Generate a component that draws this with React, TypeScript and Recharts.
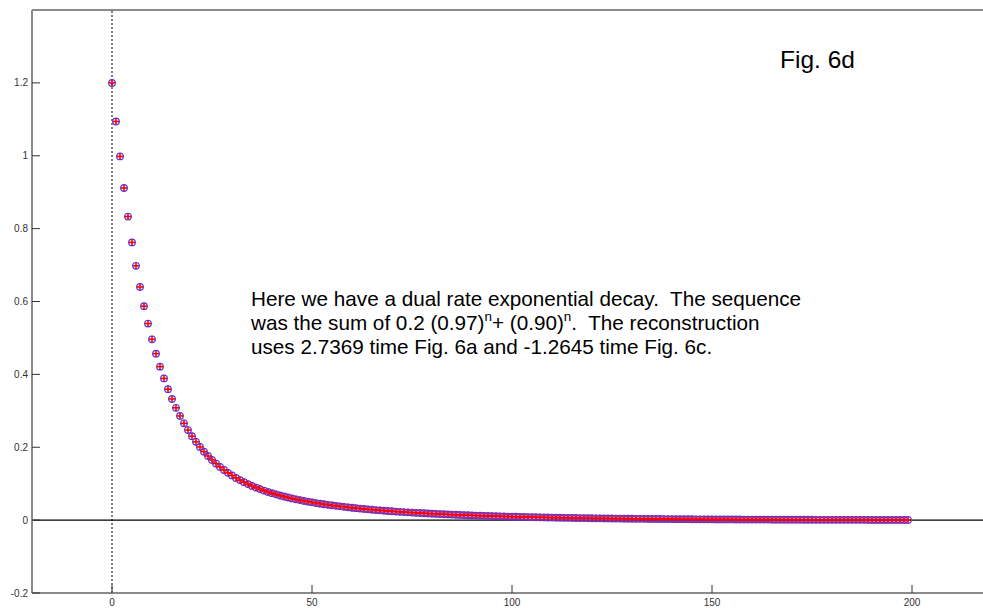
import React from 'react';
import { ScatterChart, Scatter, XAxis, YAxis, ReferenceLine } from 'recharts';

// samples n = 0..199 of the dual rate decay
const sequence = [
  1.2, 1.094, 0.9982, 0.9115, 0.8332, 0.7622, 0.698, 0.6399, 0.5872, 0.5395,
  0.4962, 0.4569, 0.4212, 0.3888, 0.3593, 0.3325, 0.3082, 0.2859, 0.2657, 0.2472,
  0.2303, 0.2149, 0.2008, 0.1879, 0.176, 0.1652, 0.1552, 0.146, 0.1376, 0.1298,
  0.1226, 0.1159, 0.1098, 0.1041, 0.0988, 0.0939, 0.0893, 0.0851, 0.0811, 0.0774,
  0.0739, 0.0707, 0.0676, 0.0648, 0.0621, 0.0595, 0.0571, 0.0549, 0.0527, 0.0507,
  0.0488, 0.0469, 0.0452, 0.0436, 0.042, 0.0405, 0.0391, 0.0377, 0.0364, 0.0352,
  0.034, 0.0328, 0.0317, 0.0307, 0.0297, 0.0287, 0.0277, 0.0268, 0.026, 0.0251,
  0.0243, 0.0236, 0.0228, 0.0221, 0.0214, 0.0207, 0.0201, 0.0195, 0.0189, 0.0183,
  0.0177, 0.0172, 0.0166, 0.0161, 0.0156, 0.0151, 0.0147, 0.0142, 0.0138, 0.0134,
  0.013, 0.0126, 0.0122, 0.0118, 0.0115, 0.0111, 0.0108, 0.0105, 0.0101, 0.0098,
  0.0095, 0.0092, 0.009, 0.0087, 0.0084, 0.0082, 0.0079, 0.0077, 0.0075, 0.0072,
  0.007, 0.0068, 0.0066, 0.0064, 0.0062, 0.006, 0.0058, 0.0057, 0.0055, 0.0053,
  0.0052, 0.005, 0.0049, 0.0047, 0.0046, 0.0044, 0.0043, 0.0042, 0.0041, 0.0039,
  0.0038, 0.0037, 0.0036, 0.0035, 0.0034, 0.0033, 0.0032, 0.0031, 0.003, 0.0029,
  0.0028, 0.0027, 0.0026, 0.0026, 0.0025, 0.0024, 0.0023, 0.0023, 0.0022, 0.0021,
  0.0021, 0.002, 0.002, 0.0019, 0.0018, 0.0018, 0.0017, 0.0017, 0.0016, 0.0016,
  0.0015, 0.0015, 0.0014, 0.0014, 0.0014, 0.0013, 0.0013, 0.0012, 0.0012, 0.0012,
  0.0011, 0.0011, 0.0011, 0.001, 0.001, 0.001, 0.0009, 0.0009, 0.0009, 0.0009,
  0.0008, 0.0008, 0.0008, 0.0008, 0.0007, 0.0007, 0.0007, 0.0007, 0.0007, 0.0006,
  0.0006, 0.0006, 0.0006, 0.0006, 0.0005, 0.0005, 0.0005, 0.0005, 0.0005, 0.0005,
];

// reconstruction from 2.7369 * Fig. 6a - 1.2645 * Fig. 6c (same values)
const reconstruction = sequence;

const xTicks = [0, 50, 100, 150, 200];
const yTicks = [-0.2, 0, 0.2, 0.4, 0.6, 0.8, 1, 1.2];

const seqPoints = sequence.map((v, n) => ({ n, v }));
const recPoints = reconstruction.map((v, n) => ({ n, v }));

const FONT = '"Liberation Sans", Arial, sans-serif';
const FRAME = '#8a8a8a';
const TICK = '#333';

const Circle = (p: any) => (
  <circle cx={p.cx} cy={p.cy} r={3.3} fill="none" stroke="#4040ff" strokeWidth={1.2} />
);

const Plus = (p: any) => (
  <g stroke="#ff0000" strokeWidth={1.6}>
    <line x1={p.cx - 3.5} y1={p.cy} x2={p.cx + 3.5} y2={p.cy} />
    <line x1={p.cx} y1={p.cy - 3.5} x2={p.cx} y2={p.cy + 3.5} />
  </g>
);

const BottomTick = ({ x, y, payload }: any) => (
  <g>
    <line x1={x} y1={y} x2={x} y2={y - 8} stroke={TICK} strokeWidth={1} />
    <text x={x} y={y + 13} textAnchor="middle" fontSize={10} fontFamily={FONT} fill={TICK}>
      {payload.value}
    </text>
  </g>
);

const TopTick = ({ x, y }: any) => (
  <line x1={x} y1={y} x2={x} y2={y + 8} stroke={TICK} strokeWidth={1} />
);

const LeftTick = ({ x, y, payload }: any) => (
  <g>
    <line x1={x} y1={y} x2={x + 8} y2={y} stroke={TICK} strokeWidth={1} />
    <text x={x - 4} y={y + 3.5} textAnchor="end" fontSize={10} fontFamily={FONT} fill={TICK}>
      {payload.value}
    </text>
  </g>
);

export default function App() {
  return (
    <div style={{ position: 'fixed', left: 0, top: 0, width: 983, height: 608, overflow: 'hidden', background: '#fff' }}>
      <ScatterChart width={1000} height={608} margin={{ top: 0, right: 8, bottom: 0, left: 0 }}>
        <XAxis
          xAxisId="bottom"
          dataKey="n"
          type="number"
          domain={[-20, 220]}
          ticks={xTicks}
          allowDataOverflow
          height={15}
          tickSize={0}
          tickMargin={0}
          tickLine={false}
          axisLine={{ stroke: FRAME, strokeWidth: 2 }}
          tick={<BottomTick />}
        />
        <XAxis
          xAxisId="top"
          orientation="top"
          type="number"
          domain={[-20, 220]}
          ticks={xTicks}
          allowDataOverflow
          height={10}
          tickSize={0}
          tickMargin={0}
          tickLine={false}
          axisLine={{ stroke: FRAME, strokeWidth: 2 }}
          tick={<TopTick />}
        />
        <YAxis
          dataKey="v"
          type="number"
          domain={[-0.2, 1.4]}
          ticks={yTicks}
          allowDataOverflow
          width={32}
          tickSize={0}
          tickMargin={0}
          tickLine={false}
          axisLine={{ stroke: FRAME, strokeWidth: 2 }}
          tick={<LeftTick />}
        />
        <ReferenceLine xAxisId="bottom" y={0} stroke="#000" strokeWidth={1.3} />
        <ReferenceLine xAxisId="bottom" x={0} stroke="#000" strokeWidth={1} strokeDasharray="2 2" />
        <Scatter xAxisId="bottom" data={seqPoints} shape={Circle} isAnimationActive={false} />
        <Scatter xAxisId="bottom" data={recPoints} shape={Plus} isAnimationActive={false} />
      </ScatterChart>
      <svg width={983} height={608} style={{ position: 'absolute', left: 0, top: 0, pointerEvents: 'none' }}>
        <text x={780} y={68} fontSize={24.5} fontFamily={FONT} fill="#000">Fig. 6d</text>
        <g fontSize={20.7} fontFamily={FONT} fill="#000">
          <text x={251} y={306} xmlSpace="preserve">Here we have a dual rate exponential decay.  The sequence</text>
          <text x={251} y={330} xmlSpace="preserve">
            was the sum of 0.2 (0.97)<tspan fontSize={13.5} dy={-9}>n</tspan><tspan dy={9}>+ (0.90)</tspan><tspan fontSize={13.5} dy={-9}>n</tspan><tspan dy={9}>.  The reconstruction</tspan>
          </text>
          <text x={251} y={354} xmlSpace="preserve">uses 2.7369 time Fig. 6a and -1.2645 time Fig. 6c.</text>
        </g>
      </svg>
    </div>
  );
}
